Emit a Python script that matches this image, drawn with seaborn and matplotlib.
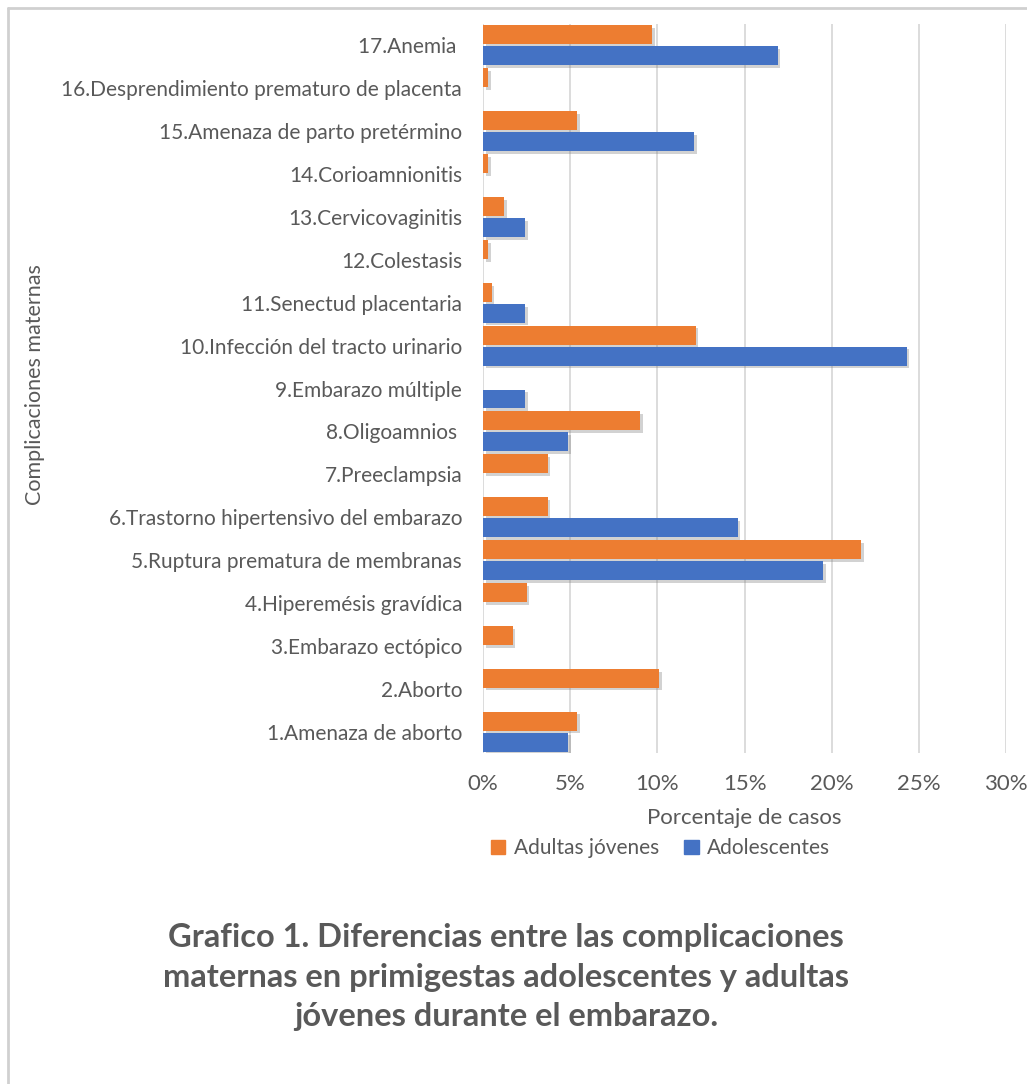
import pandas as pd
import seaborn as sns
import matplotlib.pyplot as plt
import matplotlib.patheffects as pe
from matplotlib.lines import Line2D
from matplotlib.ticker import PercentFormatter

# Datos (porcentaje de casos)
complicaciones = [
    "1.Amenaza de aborto",
    "2.Aborto",
    "3.Embarazo ectópico",
    "4.Hiperemésis gravídica",
    "5.Ruptura prematura de membranas",
    "6.Trastorno hipertensivo del embarazo",
    "7.Preeclampsia",
    "8.Oligoamnios ",
    "9.Embarazo múltiple",
    "10.Infección del tracto urinario",
    "11.Senectud placentaria",
    "12.Colestasis",
    "13.Cervicovaginitis",
    "14.Corioamnionitis",
    "15.Amenaza de parto pretérmino",
    "16.Desprendimiento prematuro de placenta",
    "17.Anemia ",
]
adultas_jovenes = [5.4, 10.1, 1.7, 2.5, 21.7, 3.7, 3.7, 9.0, 0.0, 12.2, 0.5, 0.3, 1.2, 0.3, 5.4, 0.3, 9.7]
adolescentes = [4.9, 0.0, 0.0, 0.0, 19.5, 14.6, 0.0, 4.9, 2.4, 24.3, 2.4, 0.0, 2.4, 0.0, 12.1, 0.0, 16.9]
grupos = ["Adultas jóvenes", "Adolescentes"]
x_ticks = [0, 5, 10, 15, 20, 25, 30]

titulo = ("Grafico 1. Diferencias entre las complicaciones\n"
          "maternas en primigestas adolescentes y adultas\n"
          "jóvenes durante el embarazo.")

df = pd.DataFrame({
    "complicacion": complicaciones * 2,
    "pct": adultas_jovenes + adolescentes,
    "grupo": [grupos[0]] * len(complicaciones) + [grupos[1]] * len(complicaciones),
})

sns.set_theme(style="white")
plt.rcParams["font.family"] = ["Lato", "DejaVu Sans"]
gris = "#595959"
colores = ["#ED7D31", "#4472C4"]

fig = plt.figure(figsize=(10.27, 10.84), dpi=100)
ax = fig.add_axes([0.4703, 0.3053, 0.5093, 0.6726])

sns.barplot(
    data=df, x="pct", y="complicacion", hue="grupo",
    order=complicaciones[::-1], hue_order=grupos, palette=colores, saturation=1,
    orient="h", width=0.98, gap=0.1, legend=False, ax=ax,
)

# sombra suave como en Excel
for bar in ax.patches:
    bar.set_edgecolor("none")
    bar.set_path_effects([pe.SimplePatchShadow(offset=(2, -2), shadow_rgbFace="#808080", alpha=0.35), pe.Normal()])

ax.set_xlim(0, 30)
ax.set_xticks(x_ticks)
ax.xaxis.set_major_formatter(PercentFormatter(decimals=0))
ax.xaxis.grid(True, color="#D9D9D9", linewidth=1.3)
ax.set_axisbelow(True)
sns.despine(ax=ax, left=True, bottom=True)
ax.tick_params(axis="both", length=0, colors=gris)
ax.tick_params(axis="y", labelsize=15, pad=15)
ax.tick_params(axis="x", labelsize=16, pad=15)
ax.set_ylabel("")
ax.set_xlabel("Porcentaje de casos", fontsize=16, color=gris, labelpad=10)

fig.text(0.034, 0.645, "Complicaciones maternas", rotation=90, ha="center", va="center",
         fontsize=15.5, color=gris)

handles = [plt.Rectangle((0, 0), 1, 1, color=c) for c in colores]
fig.legend(handles, grupos, loc="center", bbox_to_anchor=(0.643, 0.2176), ncol=2, frameon=False,
           fontsize=15, labelcolor=gris, handlelength=0.7, handleheight=0.7,
           handletextpad=0.4, columnspacing=1.2)

fig.text(0.493, 0.0987, titulo, ha="center", va="center", fontsize=23.5, fontweight="bold",
         color=gris, linespacing=1.42)

# marco del recuadro
fig.add_artist(Line2D([0.008, 0.008], [0, 0.993], color="#D0D0D0", linewidth=2))
fig.add_artist(Line2D([0.008, 1], [0.993, 0.993], color="#D0D0D0", linewidth=2))

fig.savefig("out.png", dpi=100)
